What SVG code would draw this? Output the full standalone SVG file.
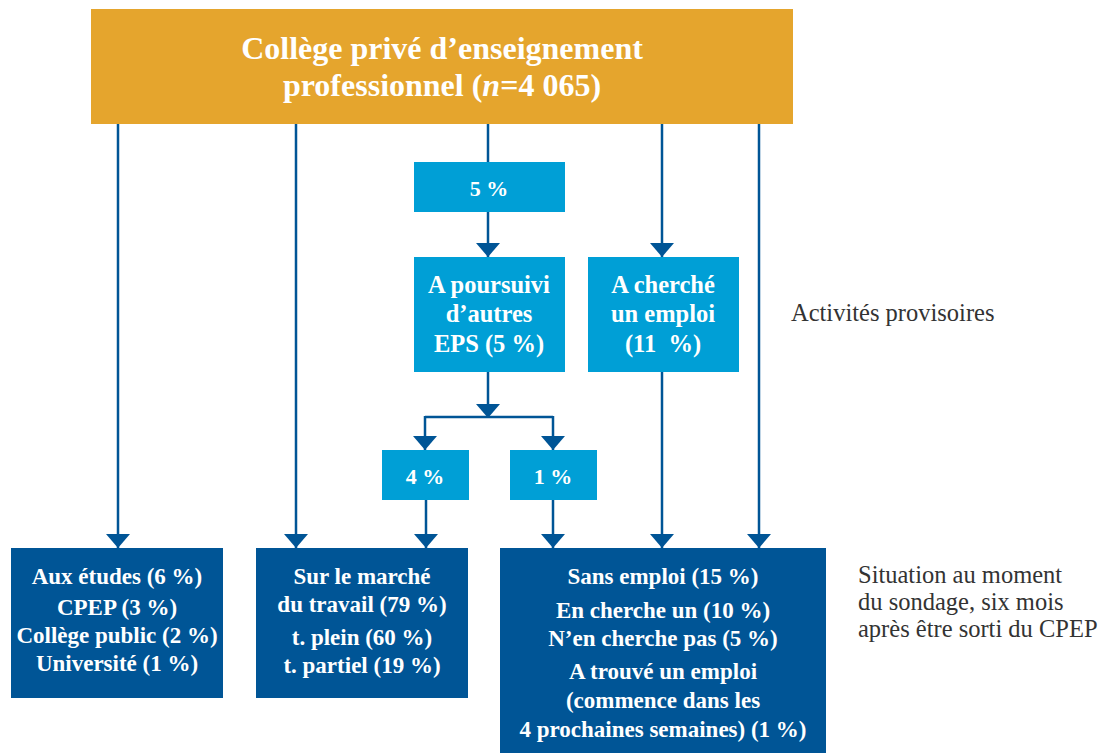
<svg xmlns="http://www.w3.org/2000/svg" width="1101" height="753" viewBox="0 0 1101 753">
  <defs>
    <marker id="arrow" viewBox="0 0 14 24" refX="14" refY="12" markerWidth="14" markerHeight="24" markerUnits="userSpaceOnUse" orient="auto">
      <path d="M0,0 L14,12 L0,24 Z" fill="#005596"/>
    </marker>
    <style>
      .top { fill: #E5A52D; }
      .mid { fill: #009FD6; }
      .low { fill: #005596; }
      .t { font-family: "Liberation Serif", "DejaVu Serif", serif; fill: #ffffff; font-weight: bold; text-anchor: middle; }
      .h1 { font-size: 32px; }
      .h2 { font-size: 24.5px; }
      .h3 { font-size: 23px; }
      .pc { font-size: 22px; }
      .note { font-family: "Liberation Serif", "DejaVu Serif", serif; font-size: 24.5px; fill: #333333; }
      .link { fill: none; stroke: #005596; stroke-width: 2.5; }
      .arr { marker-end: url(#arrow); }
    </style>
  </defs>

  <!-- connectors -->
  <g id="connectors">
    <path class="link arr" d="M118,124 V548"/>
    <path class="link arr" d="M296,124 V548"/>
    <path class="link" d="M488,124 V162"/>
    <path class="link arr" d="M488,212 V257"/>
    <path class="link arr" d="M662,124 V257"/>
    <path class="link arr" d="M759,124 V548"/>
    <path class="link arr" d="M488,372 V418"/>
    <path class="link" d="M425,417 H553"/>
    <path class="link arr" d="M425,416 V450"/>
    <path class="link arr" d="M553,416 V450"/>
    <path class="link arr" d="M426,500 V548"/>
    <path class="link arr" d="M553,500 V548"/>
    <path class="link arr" d="M662,372 V548"/>
  </g>

  <g id="college">
    <rect class="top" x="91" y="9" width="702" height="115"/>
    <text class="t h1" x="442" y="59">Collège privé d’enseignement</text>
    <text class="t h1" x="442" y="96">professionnel (<tspan font-style="italic">n</tspan>=4 065)</text>
  </g>

  <g id="pct5">
    <rect class="mid" x="414" y="162" width="151" height="50"/>
    <text class="t pc" x="489" y="196">5 %</text>
  </g>

  <g id="autres-eps">
    <rect class="mid" x="414" y="257" width="151" height="115"/>
    <text class="t h2" x="489" y="293">A poursuivi</text>
    <text class="t h2" x="489" y="322">d’autres</text>
    <text class="t h2" x="489" y="352">EPS (5 %)</text>
  </g>

  <g id="cherche-emploi">
    <rect class="mid" x="588" y="257" width="151" height="115"/>
    <text class="t h2" x="663" y="293">A cherché</text>
    <text class="t h2" x="663" y="322">un emploi</text>
    <text class="t h2" x="663" y="352" xml:space="preserve">(11  %)</text>
  </g>

  <g id="pct4">
    <rect class="mid" x="382" y="450" width="87" height="50"/>
    <text class="t pc" x="425" y="484">4 %</text>
  </g>

  <g id="pct1">
    <rect class="mid" x="510" y="450" width="87" height="50"/>
    <text class="t pc" x="553" y="484">1 %</text>
  </g>

  <g id="etudes">
    <rect class="low" x="11" y="548" width="212" height="150"/>
    <text class="t h3" x="117" y="584">Aux études (6 %)</text>
    <text class="t h3" x="117" y="615">CPEP (3 %)</text>
    <text class="t h3" x="117" y="643">Collège public (2 %)</text>
    <text class="t h3" x="117" y="671">Université (1 %)</text>
  </g>

  <g id="marche-travail">
    <rect class="low" x="256" y="548" width="212" height="150"/>
    <text class="t h3" x="362" y="584">Sur le marché</text>
    <text class="t h3" x="362" y="612">du travail (79 %)</text>
    <text class="t h3" x="362" y="645">t. plein (60 %)</text>
    <text class="t h3" x="362" y="673">t. partiel (19 %)</text>
  </g>

  <g id="sans-emploi">
    <rect class="low" x="500" y="548" width="326" height="205"/>
    <text class="t h3" x="663" y="584">Sans emploi (15 %)</text>
    <text class="t h3" x="663" y="618">En cherche un (10 %)</text>
    <text class="t h3" x="663" y="646">N’en cherche pas (5 %)</text>
    <text class="t h3" x="663" y="679">A trouvé un emploi</text>
    <text class="t h3" x="663" y="708">(commence dans les</text>
    <text class="t h3" x="663" y="737">4 prochaines semaines) (1 %)</text>
  </g>

  <g id="labels">
    <text class="note" x="791" y="321">Activités provisoires</text>
    <text class="note" x="858" y="583">Situation au moment</text>
    <text class="note" x="858" y="610">du sondage, six mois</text>
    <text class="note" x="858" y="637">après être sorti du CPEP</text>
  </g>
</svg>
